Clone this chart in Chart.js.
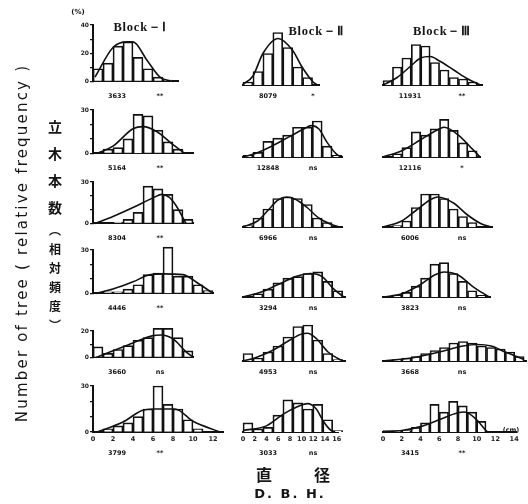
<!DOCTYPE html>
<html>
<head>
<meta charset="utf-8">
<script src="https://cdn.jsdelivr.net/npm/chart.js@4.4.1/dist/chart.umd.min.js"></script>
<style>
  body { margin: 0; background: #fff; width: 528px; height: 504px; position: relative; overflow: hidden; }
  canvas { position: absolute; }
  .t { position: absolute; color: #151515; white-space: nowrap; transform: translate(-50%, -50%); font-family: "DejaVu Sans", sans-serif; filter: grayscale(1); }
  .sub { font-size: 6.5px; font-weight: bold; }
  .block { font-family: "Liberation Serif", serif; font-size: 12.5px; font-weight: bold; letter-spacing: 0.8px; }
</style>
</head>
<body>
<script>
/* ---- data: relative frequency (%) per class, rows = survey, columns = blocks ---- */
const BLOCKS = ['Block－Ⅰ', 'Block－Ⅱ', 'Block－Ⅲ'];
const BIN_WIDTH = [1, 1.7, 1];               // class width (cm) per block

const FREQ_ROW1 = [[9, 13, 25, 28, 17, 9, 3, 1],
                   [2, 9, 21, 35, 25, 12, 5],
                   [3, 12, 18, 27, 26, 15, 10, 5, 4, 2]];
const FREQ_ROW2 = [[0, 3, 4, 10, 27, 26, 16, 8, 3],
                   [1, 3, 10, 12, 14, 19, 19, 23, 7, 1],
                   [0, 2, 6, 16, 14, 18, 24, 17, 9, 4]];
const FREQ_ROW3 = [[0, 0, 1, 3, 8, 27, 25, 21, 10, 3],
                   [1, 6, 12, 19, 20, 19, 15, 6, 3],
                   [0, 1, 4, 13, 22, 22, 19, 12, 7, 3]];
const FREQ_ROW4 = [[0, 1, 1, 3, 6, 13, 14, 32, 12, 12, 6, 2],
                   [0, 2, 5, 9, 12, 13, 15, 16, 10, 4],
                   [0, 1, 3, 7, 12, 21, 22, 15, 10, 4, 1]];
const FREQ_ROW5 = [[8, 3, 6, 9, 13, 15, 22, 22, 15, 5],
                   [5, 2, 6, 10, 16, 23, 24, 14, 5, 1],
                   [0, 1, 2, 3, 5, 7, 9, 12, 13, 12, 10, 9, 8, 6, 3]];
const FREQ_ROW6 = [[0, 2, 4, 6, 10, 15, 30, 18, 15, 8, 2],
                   [6, 2, 3, 11, 21, 19, 15, 18, 8, 1],
                   [1, 1, 1, 3, 6, 18, 13, 20, 17, 13, 7]];

// fitted distribution curves, [D.B.H. cm, %]
const CURVE_ROW1 = [[[0.2, 3], [2, 24], [3.4, 28], [4, 28], [5.4, 15], [6.7, 3], [8, 0]],
                    [[0, 0.5], [1.7, 6], [3.4, 21], [6, 31], [8.5, 23], [10.1, 12], [12, 2], [12.8, 0]],
                    [[0, 0], [1.5, 5], [3, 13], [4, 18], [5, 19], [6, 16], [7.5, 10], [9, 4], [10.3, 0]]];
const CURVE_ROW2 = [[[0.4, 0], [2, 5], [4, 17], [5, 18.5], [6.4, 15], [8, 6], [9.2, 0]],
                    [[0, 0], [2, 2], [5, 7], [8, 13], [10.5, 18], [11.7, 20], [13, 18], [14.5, 9], [16, 2], [16.8, 0]],
                    [[0, 0], [2, 4], [4, 11], [6, 18], [6.5, 19], [8, 14], [9.5, 5], [10.3, 0]]];
const CURVE_ROW3 = [[[0.2, 0], [2, 5], [4, 11.5], [6, 18.5], [6.9, 21], [7.6, 19], [8.3, 13], [9, 4], [9.3, 0]],
                    [[0, 0], [2.5, 4], [4.5, 12], [6, 18], [7.5, 20], [9, 18.5], [11, 13], [13, 6], [15, 2], [16.5, 0]],
                    [[0, 0], [2, 4], [3.5, 11], [5, 18], [5.8, 20], [7.5, 16], [9, 8], [10.5, 2], [11.5, 0]]];
const CURVE_ROW4 = [[[0.3, 0], [2, 3], [4, 8], [5.5, 12.5], [7, 13.5], [9, 13], [10.5, 7], [12, 0]],
                    [[0, 0], [3, 3], [6, 8], [9, 13], [11.5, 15], [13.5, 13], [15.5, 5], [17.2, 0]],
                    [[0, 0], [2, 2], [4, 8], [5.5, 14], [6.5, 16], [8, 14], [9.5, 7], [11.3, 0]]];
const CURVE_ROW5 = [[[0.3, 0], [2, 5], [4, 11], [6, 16.5], [6.8, 17], [8, 14], [9.2, 5], [10, 0]],
                    [[0, 0], [2, 2], [5, 7], [8, 14], [10, 18], [11, 18.5], [12.5, 15], [14.5, 6], [16.5, 1], [17.2, 0]],
                    [[0, 0], [3, 2], [6, 6], [8.5, 10], [10, 11], [11.5, 10], [13, 6], [15, 1]]];
const CURVE_ROW6 = [[[0.4, 0], [3, 6.5], [4.9, 14], [6, 15], [8.2, 15], [10, 7], [12.7, 0]],
                    [[0, 1], [4, 4], [7, 12], [9, 16], [11, 18.5], [12.5, 15], [13.7, 7], [15, 1], [15.7, 0]],
                    [[0, 0], [2, 1], [4, 3.5], [6, 8], [8, 12.5], [8.7, 13], [10, 8], [11, 1], [11.2, 0]]];

const TREE_COUNTS = [['3633', '8079', '11931'], ['5164', '12848', '12116'], ['8304', '6966', '6006'],
                     ['4446', '3294', '3823'], ['3660', '4953', '3668'], ['3799', '3033', '3415']];
const SIGNIF = [['**', '*', '**'], ['**', 'ns', '*'], ['**', 'ns', 'ns'],
                ['**', 'ns', 'ns'], ['ns', 'ns', 'ns'], ['**', 'ns', '**']];

const X_TICKS = [[0, 2, 4, 6, 8, 10, 12], [0, 2, 4, 6, 8, 10, 12, 14, 16], [0, 2, 4, 6, 8, 10, 12, 14]];
const Y_TICKS = [[0, 10, 20, 30, 40], [0, 10, 20, 30], [0, 10, 20, 30], [0, 10, 20, 30], [0, 10, 20], [0, 10, 20, 30]];
const Y_LABELS = [[0, 20, 40], [0, 30], [0, 30], [0, 30], [0, 20], [0, 30]];
const X_MAX = [[8.5, 13, 10.5], [10, 17, 10.3], [10, 17, 11.6], [12, 17.4, 11.4], [10, 17.4, 15.2], [13, 16.2, 14.2]];

const FREQ = [FREQ_ROW1, FREQ_ROW2, FREQ_ROW3, FREQ_ROW4, FREQ_ROW5, FREQ_ROW6];
const CURVE = [CURVE_ROW1, CURVE_ROW2, CURVE_ROW3, CURVE_ROW4, CURVE_ROW5, CURVE_ROW6];

/* ---- layout of the 6 x 3 panels ---- */
const COL_X0 = [93, 243, 383];
const COL_PX_PER_CM = [10, 5.85, 9.4];
const ROW_BASE = [85, 157, 227, 297, 361, 432];
const ROW_PX_PER_PCT = [1.5, 1.55, 1.5, 1.57, 1.5, 1.53];
const INK = '#111111';

function addText(txt, x, y, cls, style) {
  const d = document.createElement('div');
  d.className = 't ' + (cls || '');
  d.textContent = txt;
  d.style.left = x + 'px';
  d.style.top = y + 'px';
  if (style) d.style.cssText += style;
  document.body.appendChild(d);
}

function makePanel(r, c) {
  const bw = BIN_WIDTH[c];
  const bars = FREQ[r][c].map((v, i) => ({ x: (i + 0.5) * bw, y: v }));
  const curve = CURVE[r][c].map(([x, y]) => ({ x, y }));
  const yTicks = Y_TICKS[r];
  const yMax = yTicks[yTicks.length - 1];
  const xMax = X_MAX[r][c];
  const bottom = r === 5;

  const padTop = 16, padL = 6, padR = 8;
  const axisW = c === 0 ? 18 : 0;
  const xAxisH = bottom ? 11 : 1;
  const plotW = Math.round(xMax * COL_PX_PER_CM[c]);
  const plotH = Math.round(yMax * ROW_PX_PER_PCT[r]);

  const cv = document.createElement('canvas');
  cv.width = padL + axisW + plotW + padR;
  cv.height = padTop + plotH + xAxisH;
  cv.style.left = (COL_X0[c] - padL - axisW) + 'px';
  cv.style.top = (ROW_BASE[r] - plotH - padTop) + 'px';
  document.body.appendChild(cv);

  new Chart(cv, {
    type: 'bar',
    data: {
      datasets: [
        { type: 'line', data: curve, borderColor: INK, borderWidth: 1.6, pointRadius: 0,
          cubicInterpolationMode: 'monotone', fill: false, clip: false, order: 1 },
        { type: 'bar', data: bars, backgroundColor: '#ffffff', borderColor: INK, borderWidth: 1.7,
          barPercentage: 1, categoryPercentage: 1, clip: false, order: 2 },
      ]
    },
    options: {
      responsive: false,
      animation: false,
      devicePixelRatio: 1,
      events: [],
      layout: { padding: { top: padTop, left: padL, right: padR, bottom: 0 } },
      plugins: { legend: { display: false }, tooltip: { enabled: false } },
      scales: {
        x: {
          type: 'linear', min: 0, max: xMax, offset: false,
          afterFit: s => { s.height = xAxisH; },
          afterBuildTicks: s => { s.ticks = X_TICKS[c].filter(v => v <= xMax).map(v => ({ value: v })); },
          grid: { display: true, drawOnChartArea: false, drawTicks: false },
          border: { display: true, color: INK, width: 2 },
          ticks: { display: bottom, padding: 3, maxRotation: 0, autoSkip: false,
                   color: '#222', font: { family: 'DejaVu Sans', size: 6.5, weight: 'bold' } },
        },
        y: {
          display: c === 0,
          min: 0, max: yMax,
          afterFit: s => { s.width = axisW; },
          afterBuildTicks: s => { s.ticks = yTicks.map(v => ({ value: v })); },
          grid: { display: true, drawOnChartArea: false, drawTicks: true, tickLength: 3, color: INK, lineWidth: 1.2 },
          border: { display: true, color: INK, width: 2 },
          ticks: { padding: 1, color: '#222', font: { family: 'DejaVu Sans', size: 6, weight: 'bold' },
                   callback: v => Y_LABELS[r].includes(v) ? String(v) : '' },
        }
      }
    }
  });

  // sample size and significance mark under each panel
  const ty = ROW_BASE[r] + (bottom ? 21 : 11);
  const numX = [117, 268, 410][c];
  const sigX = [160, 313, 462][c];
  addText(TREE_COUNTS[r][c], numX, ty, 'sub');
  addText(SIGNIF[r][c], sigX, ty, 'sub');
}

for (let r = 0; r < 6; r++) for (let c = 0; c < 3; c++) makePanel(r, c);

// headings and axis titles
addText('(%)', 78, 12, 'sub', 'font-size:7px');
addText(BLOCKS[0], 140, 27, 'block');
addText(BLOCKS[1], 316, 31, 'block');
addText(BLOCKS[2], 442, 31, 'block');
addText('Number of tree ( relative frequency )', 22, 243, '',
        'font-size:15px;letter-spacing:2.2px;transform:translate(-50%,-50%) rotate(-90deg)');
addText('立木本数', 55, 174, '',
        'font-family:"Noto Sans CJK JP";font-size:14px;font-weight:bold;writing-mode:vertical-rl;letter-spacing:13px');
addText('（相対頻度）', 55, 281, '',
        'font-family:"Noto Sans CJK JP";font-size:12px;font-weight:bold;writing-mode:vertical-rl;letter-spacing:7px');
addText('(cm)', 511, 430, 'sub');
addText('直', 264, 474, '', 'font-family:"Noto Sans CJK JP";font-size:16px;font-weight:bold');
addText('径', 322, 474, '', 'font-family:"Noto Sans CJK JP";font-size:16px;font-weight:bold');
addText('D. B. H.', 290, 493, '', 'font-size:13px;font-weight:bold;letter-spacing:2px');
</script>
</body>
</html>
